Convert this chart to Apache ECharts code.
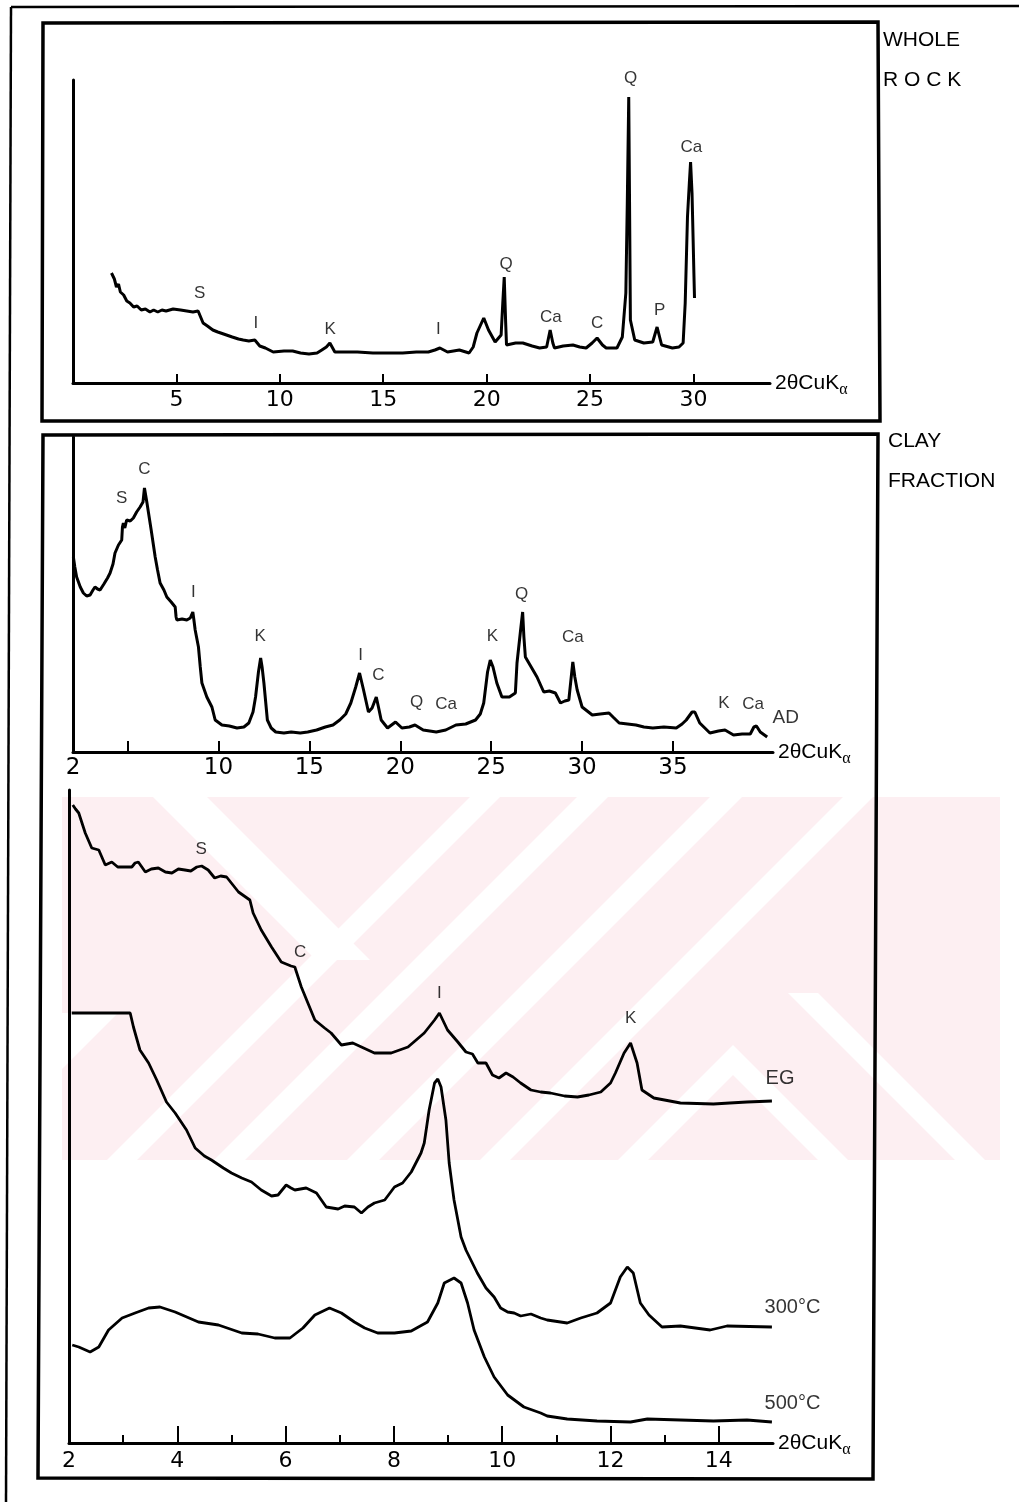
<!DOCTYPE html>
<html>
<head>
<meta charset="utf-8">
<script src="https://cdn.jsdelivr.net/npm/echarts@6/dist/echarts.min.js"></script>
<style>
  html, body { margin: 0; padding: 0; background: #fff; }
  #chart { width: 1019px; height: 1502px; }
</style>
</head>
<body>
<div id="chart"></div>
<script>
// whole rock pattern [2theta, intensity]
const wholeRock = [
  [1.86,110],[2.0,104],[2.1,96],[2.2,99],[2.29,91],[2.45,88],[2.6,82],[2.75,80],[2.93,76],[3.1,77],
  [3.3,73],[3.5,74],[3.72,71],[3.9,73],[4.1,71],[4.3,73],[4.5,72],[4.84,74],[5.2,73],[5.5,72],
  [5.8,71],[6.05,72],[6.15,67],[6.29,60],[6.5,57],[6.76,53],[7.0,51],[7.42,48],[7.7,46],[8.0,44],
  [8.23,43],[8.5,42],[8.79,43],[9.03,37],[9.3,35],[9.68,31],[10.2,32],[10.62,32],[11.0,30],[11.41,29],
  [11.8,30],[12.03,33],[12.25,36],[12.42,40],[12.66,31],[13.2,31],[13.75,31],[14.5,30],[15.2,30],[15.94,30],
  [16.6,31],[17.18,31],[17.5,33],[17.74,35],[18.11,31],[18.68,33],[19.15,30],[19.35,36],[19.53,50],[19.86,65],
  [20.09,53],[20.41,41],[20.7,48],[20.78,80],[20.85,106],[20.92,60],[20.96,38],[21.4,40],[21.75,40],[22.2,37],
  [22.56,35],[22.9,36],[23.07,53],[23.2,40],[23.28,35],[23.7,37],[24.17,38],[24.5,36],[24.81,35],[25.1,40],
  [25.34,45],[25.6,38],[25.78,35],[26.3,35],[26.56,46],[26.73,90],[26.8,180],[26.87,286],[26.92,150],[26.95,63],
  [27.16,43],[27.6,40],[28.03,41],[28.24,56],[28.46,38],[28.98,35],[29.3,36],[29.5,40],[29.6,80],[29.71,166],
  [29.8,200],[29.86,221],[29.93,190],[29.98,146],[30.02,110],[30.05,85]
];
const wholeRockPeaks = [
  [6.13,90,'S'],[8.84,60,'I'],[12.43,54,'K'],[17.66,54,'I'],[20.94,119,'Q'],
  [23.1,66,'Ca'],[25.34,60,'C'],[26.96,305,'Q'],[28.37,73,'P'],[29.9,236,'Ca']
];

// clay fraction, air dried
const clayAD = [
  [2.02,195],[2.1,185],[2.2,175],[2.4,165],[2.57,159],[2.75,156],[2.94,157],[3.1,162],[3.21,165],[3.35,163],
  [3.49,162],[3.7,168],[3.9,174],[4.04,179],[4.2,188],[4.31,199],[4.5,207],[4.68,212],[4.72,225],[4.77,229],
  [4.85,224],[4.95,232],[5.05,234],[5.15,231],[5.32,234],[5.5,240],[5.69,245],[5.85,250],[5.93,264],[6.06,250],
  [6.3,222],[6.52,195],[6.65,182],[6.79,169],[7.0,162],[7.16,155],[7.4,150],[7.62,145],[7.67,135],[7.71,132],
  [8.0,133],[8.26,132],[8.45,134],[8.59,140],[8.65,132],[8.72,122],[8.9,105],[9.0,85],[9.09,69],[9.36,55],
  [9.64,45],[9.82,32],[10.19,27],[10.6,26],[11.02,24],[11.4,25],[11.67,29],[11.9,40],[12.04,55],[12.2,80],
  [12.32,94],[12.4,85],[12.5,69],[12.69,32],[12.9,24],[13.15,20],[13.6,19],[14.0,20],[14.5,19],[14.91,20],
  [15.4,22],[15.88,25],[16.3,27],[16.67,32],[17.0,38],[17.28,49],[17.55,65],[17.76,79],[17.98,62],[18.25,40],
  [18.45,44],[18.68,55],[18.8,45],[18.95,32],[19.3,24],[19.74,30],[20.09,24],[20.5,25],[20.81,27],[21.26,22],
  [21.98,20],[22.5,22],[23.06,27],[23.6,28],[24.14,32],[24.4,38],[24.59,49],[24.8,80],[24.95,92],[25.1,85],
  [25.31,69],[25.59,55],[26.0,55],[26.33,59],[26.42,89],[26.6,119],[26.73,140],[26.8,115],[26.88,95],[27.2,85],
  [27.52,75],[27.89,60],[28.2,61],[28.53,59],[28.81,49],[29.05,51],[29.27,52],[29.49,90],[29.6,75],[29.73,62],
  [30.0,45],[30.56,37],[31.0,38],[31.48,39],[31.7,35],[32.04,29],[32.5,28],[32.96,27],[33.4,25],[33.89,24],
  [34.5,25],[35.18,24],[35.5,28],[35.73,32],[36.05,40],[36.2,40],[36.47,29],[37.03,19],[37.5,21],[37.86,22],
  [38.33,17],[38.8,18],[39.25,18],[39.45,25],[39.59,26],[39.8,20],[40.18,15]
];
const clayPeaks = [
  [4.68,254,'S'],[5.93,283,'C'],[8.62,160,'I'],[12.3,116,'K'],[17.82,97,'I'],[18.79,77,'C'],
  [20.9,50,'Q'],[22.52,48,'Ca'],[25.07,116,'K'],[26.67,158,'Q'],[29.49,115,'Ca'],[37.8,49,'K'],[39.4,48,'Ca']
];
const clayTag = [[41.2,34,'AD']];

// glycolated and heated runs
const glycol = [
  [2.07,638],[2.12,634],[2.18,630],[2.3,610],[2.42,595],[2.55,593],[2.67,578],[2.79,581],[2.9,576],[2.98,576],
  [3.16,576],[3.22,580],[3.28,581],[3.41,571],[3.52,574],[3.65,575],[3.78,571],[3.9,570],[4.02,574],[4.14,573],
  [4.25,572],[4.36,576],[4.45,577],[4.57,573],[4.69,565],[4.8,567],[4.91,566],[5.13,551],[5.34,543],[5.4,530],
  [5.55,513],[5.74,496],[5.92,481],[6.1,477],[6.17,476],[6.29,456],[6.54,423],[6.72,415],[6.84,410],[7.03,398],
  [7.24,400],[7.4,396],[7.64,390],[7.95,390],[8.26,396],[8.56,410],[8.75,423],[8.84,430],[8.99,413],[9.18,401],
  [9.33,391],[9.45,389],[9.55,380],[9.7,380],[9.82,368],[9.94,365],[10.07,370],[10.2,366],[10.34,360],[10.53,353],
  [10.71,351],[10.89,350],[11.15,347],[11.39,346],[11.6,348],[11.82,351],[12.0,360],[12.09,370],[12.25,390],[12.37,400],
  [12.49,380],[12.58,353],[12.8,345],[13.29,340],[13.9,339],[14.2,340],[14.52,341],[14.98,342]
];
const heat300 = [
  [2.05,430],[3.13,430],[3.19,416],[3.31,393],[3.47,380],[3.62,363],[3.8,341],[3.96,330],[4.17,313],[4.33,295],
  [4.5,287],[4.63,283],[4.85,275],[5.0,270],[5.19,265],[5.37,261],[5.55,253],[5.74,247],[5.86,248],[6.01,258],
  [6.1,255],[6.17,253],[6.38,255],[6.57,250],[6.75,236],[6.97,234],[7.09,237],[7.27,236],[7.4,230],[7.52,236],
  [7.64,240],[7.83,243],[8.01,256],[8.16,260],[8.32,271],[8.5,290],[8.56,300],[8.65,333],[8.75,360],[8.81,364],
  [8.87,356],[8.96,323],[9.02,280],[9.11,243],[9.24,206],[9.33,193],[9.54,170],[9.7,155],[9.85,146],[9.97,135],
  [10.1,131],[10.22,130],[10.34,127],[10.53,129],[10.71,125],[10.83,123],[11.2,120],[11.45,125],[11.75,130],[12.0,140],
  [12.18,166],[12.31,176],[12.42,170],[12.55,140],[12.71,128],[12.95,116],[13.29,117],[13.84,113],[14.15,117],[14.98,116]
];
const heat500 = [
  [2.06,98],[2.18,96],[2.39,91],[2.55,96],[2.73,113],[2.98,125],[3.22,130],[3.47,135],[3.68,136],[3.96,131],
  [4.39,121],[4.76,118],[5.19,110],[5.49,109],[5.8,105],[6.08,105],[6.32,115],[6.54,128],[6.81,135],[7.03,130],
  [7.27,121],[7.46,115],[7.7,110],[8.01,110],[8.32,112],[8.62,121],[8.81,140],[8.93,160],[9.11,165],[9.24,160],
  [9.36,140],[9.48,113],[9.67,86],[9.85,66],[10.1,48],[10.4,36],[10.71,30],[10.83,27],[11.2,24],[11.75,22],
  [12.37,21],[12.68,24],[13.29,23],[13.9,22],[14.52,23],[14.98,21]
];
const glycolPeaks = [[4.44,594,'S'],[6.27,491,'C'],[8.84,450,'I'],[12.37,425,'K']];
const runTags = [[15.13,365,'EG'],[15.36,136,'300°C'],[15.36,40,'500°C']];

// axis ticks
const rockTicks = [5, 10, 15, 20, 25, 30];
const clayTicks = [5, 10, 15, 20, 25, 30, 35];
const clayTickLabels = [2, 10, 15, 20, 25, 30, 35];
const heatTicks = [2, 4, 6, 8, 10, 12, 14];
const heatMinorTicks = [3, 5, 7, 9, 11, 13];

const chart = echarts.init(document.getElementById('chart'));

const SANS = 'Liberation Sans';
const axisName = '{a|2θCuK}{b|α}';
const nameStyle = {
  rich: {
    a: { fontFamily: SANS, fontSize: 21, color: '#000' },
    b: { fontFamily: 'Liberation Serif', fontSize: 16, color: '#000', padding: [14, 0, 0, 0] }
  }
};

function xAxisFor(gridIndex, min, max, ticks, labels, tickLen, fontSize, margin) {
  return {
    type: 'value', gridIndex, min, max, position: 'bottom',
    name: axisName, nameLocation: 'end', nameGap: 5, nameTextStyle: nameStyle,
    axisLine: { show: true, lineStyle: { color: '#000', width: 3 } },
    axisTick: { show: true, inside: true, length: tickLen, customValues: ticks, lineStyle: { color: '#000', width: 2 } },
    axisLabel: { show: true, customValues: labels, margin, color: '#000', fontSize, fontFamily: 'DejaVu Sans' },
    splitLine: { show: false }
  };
}

function yAxisFor(gridIndex, max) {
  return {
    type: 'value', gridIndex, min: 0, max,
    axisLine: { show: true, lineStyle: { color: '#000', width: 3 } },
    axisTick: { show: false }, axisLabel: { show: false }, splitLine: { show: false }
  };
}

function trace(data, idx, width) {
  return {
    type: 'line', xAxisIndex: idx, yAxisIndex: idx, data,
    showSymbol: false, smooth: false, silent: true,
    lineStyle: { color: '#000', width }
  };
}

function tags(items, xIdx, yIdx, fontSize) {
  return {
    type: 'scatter', xAxisIndex: xIdx, yAxisIndex: yIdx, clip: false, silent: true,
    symbolSize: 1, itemStyle: { color: 'transparent' },
    data: items.map(d => ({ value: [d[0], d[1]], name: d[2] })),
    label: { show: true, position: 'inside', formatter: '{b}', color: '#000', fontSize, fontFamily: SANS }
  };
}

function sideText(x, y, text) {
  return {
    type: 'text', x, y,
    style: { text, fill: '#000', font: '21px "Liberation Sans"', textVerticalAlign: 'middle' }
  };
}

// faint scanned watermark behind the lower panel: pink field cut by white diagonal gaps
function band(points, fill) {
  return { type: 'polygon', z: -10, silent: true, shape: { points }, style: { fill, stroke: null } };
}
const PINK = '#fdeff2';
const watermark = [
  band([[62, 797], [1000, 797], [1000, 1160], [62, 1160]], PINK),
  band([[153, 797], [207, 797], [370, 960], [316, 960]], '#fff'),
  band([[470, 797], [500, 797], [137, 1160], [107, 1160]], '#fff'),
  band([[577, 797], [608, 797], [245, 1160], [214, 1160]], '#fff'),
  band([[710, 797], [742, 797], [379, 1160], [347, 1160]], '#fff'),
  band([[843, 797], [873, 797], [510, 1160], [480, 1160]], '#fff'),
  band([[733, 1045], [848, 1160], [818, 1160], [733, 1075], [648, 1160], [618, 1160]], '#fff'),
  band([[788, 993], [818, 993], [985, 1160], [955, 1160]], '#fff'),
  band([[62, 1013], [118, 1013], [62, 1069]], '#fff')
];

// second bottom axis on the lower panel only carries the short odd-degree ticks
const minorAxis = xAxisFor(2, 2, 15, heatMinorTicks, [], 8, 22, 7);
minorAxis.name = '';
minorAxis.axisLine = { show: false };
minorAxis.axisLabel = { show: false };

chart.setOption({
  animation: false,
  backgroundColor: '#fff',
  grid: [
    { left: 73, top: 80, width: 697, height: 303 },
    { left: 73, top: 437, width: 700, height: 315 },
    { left: 69, top: 790, width: 704, height: 653 }
  ],
  xAxis: [
    xAxisFor(0, 0, 33.7, rockTicks, rockTicks, 9, 22, 6),
    xAxisFor(1, 2, 40.5, clayTicks, clayTickLabels, 11, 23, 5),
    xAxisFor(2, 2, 15, heatTicks, heatTicks, 17, 22, 7),
    minorAxis
  ],
  yAxis: [yAxisFor(0, 303), yAxisFor(1, 315), yAxisFor(2, 653)],
  graphic: watermark.concat([
    { type: 'polyline', shape: { points: [[11, 7], [1019, 6]] }, style: { stroke: '#000', lineWidth: 2.5, fill: null } },
    { type: 'polyline', shape: { points: [[11, 7], [6, 1502]] }, style: { stroke: '#000', lineWidth: 2.5, fill: null } },
    { type: 'polygon', shape: { points: [[43, 23], [878, 22], [880, 421], [42, 421]] }, style: { stroke: '#000', lineWidth: 3.5, fill: null } },
    { type: 'polygon', shape: { points: [[43, 435], [878, 434], [873, 1479], [38, 1478]] }, style: { stroke: '#000', lineWidth: 3.5, fill: null } },
    sideText(883, 40, 'WHOLE'),
    sideText(883, 80, 'R O C K'),
    sideText(888, 441, 'CLAY'),
    sideText(888, 481, 'FRACTION')
  ]),
  series: [
    trace(wholeRock, 0, 3),
    tags(wholeRockPeaks, 0, 0, 17),
    trace(clayAD, 1, 3),
    tags(clayPeaks, 1, 1, 17),
    tags(clayTag, 1, 1, 19),
    trace(glycol, 2, 2.8),
    trace(heat300, 2, 2.8),
    trace(heat500, 2, 2.8),
    tags(glycolPeaks, 2, 2, 17),
    tags(runTags, 2, 2, 20)
  ]
});
</script>
</body>
</html>
